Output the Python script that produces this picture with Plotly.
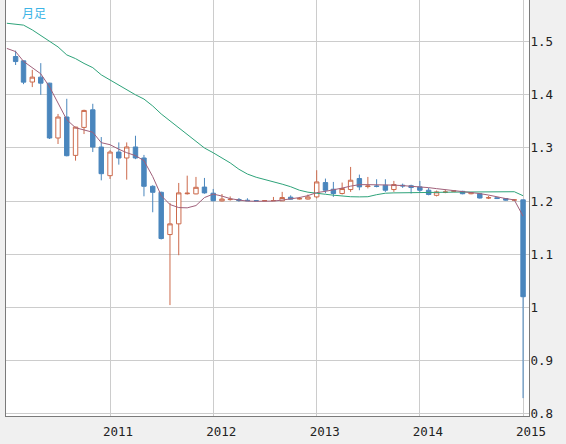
import pandas as pd
import plotly.graph_objects as go

# monthly EUR/CHF candles, Feb 2010 - Jan 2015
line_months = pd.date_range("2010-01-01", "2015-01-01", freq="MS")
candle_months = line_months[1:]

opens = [1.4720, 1.4638, 1.4240, 1.4332, 1.4219, 1.3188, 1.3582, 1.2861, 1.3387, 1.3718, 1.3018,
         1.2480, 1.2924, 1.2812, 1.3019, 1.2812, 1.2280, 1.2167, 1.1373, 1.1574, 1.2140, 1.2137, 1.2265,
         1.2150, 1.2005, 1.2030, 1.2032, 1.2018, 1.2010, 1.2008, 1.2010, 1.2006, 1.2075, 1.2040, 1.2040,
         1.2081, 1.2350, 1.2225, 1.2144, 1.2219, 1.2426, 1.2275, 1.2285, 1.2300, 1.2219, 1.2300, 1.2290,
         1.2269, 1.2206, 1.2110, 1.2168, 1.2188, 1.2185, 1.2140, 1.2140, 1.2060, 1.2065, 1.2050, 1.2020,
         1.2025]
highs = [1.4830, 1.4640, 1.4469, 1.4595, 1.4225, 1.3640, 1.3925, 1.3400, 1.3720, 1.3831, 1.3206,
         1.2960, 1.3105, 1.3105, 1.3230, 1.2870, 1.2300, 1.2180, 1.1968, 1.2343, 1.2480, 1.2456, 1.2437,
         1.2230, 1.2135, 1.2090, 1.2060, 1.2055, 1.2015, 1.2012, 1.2080, 1.2175, 1.2110, 1.2080, 1.2125,
         1.2582, 1.2425, 1.2362, 1.2350, 1.2644, 1.2500, 1.2456, 1.2413, 1.2413, 1.2381, 1.2330, 1.2310,
         1.2381, 1.2250, 1.2200, 1.2215, 1.2210, 1.2195, 1.2170, 1.2150, 1.2100, 1.2075, 1.2060, 1.2040,
         1.2030]
lows = [1.4560, 1.4200, 1.4145, 1.4000, 1.3169, 1.3075, 1.2843, 1.2762, 1.3262, 1.2924, 1.2392,
        1.2418, 1.2687, 1.2405, 1.2790, 1.2092, 1.1792, 1.1280, 1.0047, 1.0985, 1.2124, 1.2130, 1.2140,
        1.1995, 1.1995, 1.2010, 1.1990, 1.2005, 1.2005, 1.2005, 1.2008, 1.2005, 1.2035, 1.2030, 1.2030,
        1.2053, 1.2150, 1.2081, 1.2126, 1.2175, 1.2206, 1.2240, 1.2260, 1.2175, 1.2175, 1.2250, 1.2144,
        1.2175, 1.2110, 1.2090, 1.2150, 1.2170, 1.2130, 1.2130, 1.2050, 1.2040, 1.2040, 1.2010, 1.2005,
        0.8298]
closes = [1.4625, 1.4238, 1.4332, 1.4219, 1.3188, 1.3582, 1.2855, 1.3393, 1.3706, 1.3018, 1.2517,
          1.2924, 1.2812, 1.3019, 1.2812, 1.2280, 1.2167, 1.1298, 1.1574, 1.2156, 1.2150, 1.2261, 1.2156,
          1.2010, 1.2040, 1.2035, 1.2012, 1.2010, 1.2008, 1.2010, 1.2012, 1.2069, 1.2038, 1.2050, 1.2080,
          1.2362, 1.2206, 1.2144, 1.2238, 1.2394, 1.2269, 1.2285, 1.2280, 1.2206, 1.2313, 1.2287, 1.2257,
          1.2206, 1.2126, 1.2175, 1.2172, 1.2192, 1.2140, 1.2160, 1.2060, 1.2065, 1.2050, 1.2020, 1.2025,
          1.0204]

# moving averages, Jan 2010 - Jan 2015
ma_short = [1.4872, 1.4812, 1.4629, 1.4507, 1.4394, 1.4150, 1.3831, 1.3531, 1.3381, 1.3334, 1.3296, 1.3100,
            1.3062, 1.2977, 1.2912, 1.2856, 1.2762, 1.2462, 1.2106, 1.1937, 1.1880, 1.1875, 1.1918, 1.2068,
            1.2134, 1.2096, 1.2049, 1.2021, 1.2002, 1.1998, 1.1998, 1.2002, 1.2021, 1.2040, 1.2068, 1.2105,
            1.2161, 1.2186, 1.2208, 1.2246, 1.2283, 1.2311, 1.2311, 1.2311, 1.2306, 1.2302, 1.2293, 1.2283,
            1.2264, 1.2255, 1.2236, 1.2218, 1.2199, 1.2180, 1.2167, 1.2143, 1.2115, 1.2077, 1.2049, 1.2024,
            1.1719]
ma_long = [1.5345, 1.5330, 1.5310, 1.5220, 1.5110, 1.5010, 1.4900, 1.4750, 1.4680, 1.4590, 1.4510, 1.4375,
           1.4280, 1.4190, 1.4090, 1.4000, 1.3920, 1.3790, 1.3640, 1.3510, 1.3380, 1.3250, 1.3110, 1.3000,
           1.2910, 1.2810, 1.2720, 1.2600, 1.2510, 1.2450, 1.2410, 1.2366, 1.2320, 1.2272, 1.2206, 1.2169,
           1.2144, 1.2130, 1.2113, 1.2094, 1.2084, 1.2081, 1.2084, 1.2122, 1.2150, 1.2156, 1.2156, 1.2156,
           1.2160, 1.2162, 1.2165, 1.2167, 1.2170, 1.2172, 1.2174, 1.2176, 1.2177, 1.2178, 1.2178, 1.2178,
           1.2103]

year_ticks = ["2011-01-01", "2012-01-01", "2013-01-01", "2014-01-01", "2015-01-01"]
year_labels = ["2011", "2012", "2013", "2014", "2015"]

fig = go.Figure()

fig.add_trace(go.Scatter(
    x=line_months, y=ma_long, mode="lines",
    line=dict(color="#2ea37a", width=1), hoverinfo="skip"
))

fig.add_trace(go.Candlestick(
    x=candle_months, open=opens, high=highs, low=lows, close=closes,
    increasing=dict(line=dict(color="#cc6a4c", width=1), fillcolor="#ffffff"),
    decreasing=dict(line=dict(color="#4a86bd", width=1), fillcolor="#4a86bd"),
    whiskerwidth=0
))

fig.add_trace(go.Scatter(
    x=line_months, y=ma_short, mode="lines",
    line=dict(color="#a0607a", width=1), hoverinfo="skip"
))

fig.add_annotation(
    text="月足", xref="paper", yref="paper", x=0.027, y=1,
    xanchor="left", yanchor="top", yshift=-2, showarrow=False,
    font=dict(family="Noto Sans CJK JP", size=12, color="#3cb4e6")
)

fig.update_layout(
    width=566, height=444,
    margin=dict(l=6, r=37, t=0, b=28),
    paper_bgcolor="#f0f0f0",
    plot_bgcolor="#ffffff",
    showlegend=False,
    boxgap=0.2,
    font=dict(family="DejaVu Sans Mono", size=12.5, color="#222222"),
    xaxis=dict(
        type="date", range=["2009-12-29", "2015-01-22"],
        rangeslider=dict(visible=False),
        tickvals=year_ticks, ticktext=year_labels, ticklabelshift=8,
        ticklabelstandoff=4,
        showgrid=True, gridcolor="#cccccc", gridwidth=1,
        showline=True, linecolor="#7a7a7a", linewidth=1,
        ticks="", zeroline=False
    ),
    yaxis=dict(
        side="right", range=[0.7962, 1.5782],
        tick0=0.8, dtick=0.1,
        showgrid=True, gridcolor="#cccccc", gridwidth=1,
        showline=True, mirror=True, linecolor="#7a7a7a", linewidth=1,
        ticks="", ticklabelstandoff=-2,
        zeroline=False
    )
)

fig.write_html("out.html", config={"displayModeBar": False},
               post_script="document.body.style.margin='0';")
